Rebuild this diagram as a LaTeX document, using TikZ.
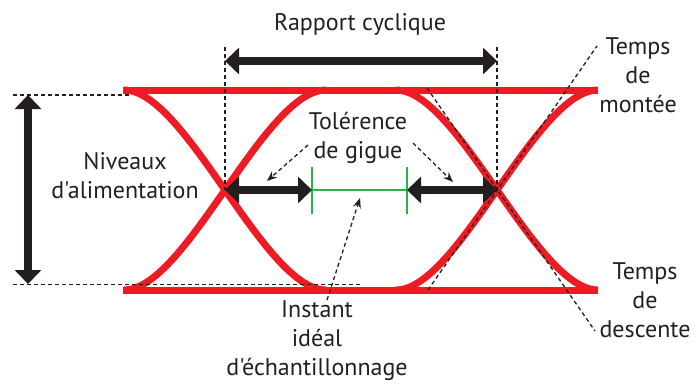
\documentclass[tikz,border=0pt]{standalone}
\usepackage{fontspec}
\setmainfont{PT Sans}[Ligatures=TeXOff]
\usetikzlibrary{arrows.meta}
\definecolor{oeilrouge}{RGB}{237,28,36}
\definecolor{encre}{RGB}{35,31,32}
\definecolor{vertgigue}{RGB}{40,180,75}

\begin{document}
\begin{tikzpicture}[
		x=1pt,y=-1pt,
		every node/.append style={align=center,text=encre,inner sep=0pt,font=\fontsize{24}{29}\selectfont},
		signal/.style={draw=oeilrouge,line width=7pt},
		fleche/.style={draw=encre,line width=8pt,{Triangle[length=14pt,width=26pt]}-{Triangle[length=14pt,width=26pt]}},
		pointille/.style={draw=encre,line width=1.3pt,dash pattern=on 4pt off 3pt},
		renvoi/.style={pointille,-{Stealth[length=10pt,width=8pt]}},
		gigue/.style={draw=vertgigue,line width=2pt}
	]
	\useasboundingbox (0,0) rectangle (695,383);

	\coordinate (croixG) at (225,190);
	\coordinate (croixD) at (497,190);
	\coordinate (vertG) at (312,190);
	\coordinate (vertD) at (407,190);

	\draw[signal] (123,90) -- (598,90);
	\draw[signal] (123,290) -- (598,290);
	\draw[signal] (124,90) .. controls (186,90) and (264,290) .. (326,290);
	\draw[signal] (124,290) .. controls (186,290) and (264,90) .. (326,90);
	\draw[signal] (396,90) .. controls (458,90) and (536,290) .. (598,290);
	\draw[signal] (396,290) .. controls (458,290) and (536,90) .. (598,90);

	\node[] (rapport) at (360,24) {Rapport cyclique};
	\node[] (niveaux) at (125,176) {Niveaux\\d'alimentation};
	\node[] (tolerance) at (358,138) {Tolérence\\de gigue};
	\node[] (instant) at (317,341) {Instant\\idéal\\d'échantillonnage};
	\node[] (montee) at (638,75) {Temps\\de\\montée};
	\node[] (descente) at (645,300) {Temps\\de\\descente};

	\coordinate (nivH) at (28,95);
	\coordinate (nivB) at (28,284);
	\coordinate (repereH) at (13,95);
	\coordinate (repereHfin) at (130,95);
	\coordinate (repereB) at (13,284.5);
	\coordinate (repereBfin) at (360,284.5);
	\coordinate (rapG) at (225,61);
	\coordinate (rapD) at (497,61);
	\coordinate (rapGh) at (225,47);
	\coordinate (rapDh) at (497,47);
	\coordinate (monteeB) at (428,290);
	\coordinate (monteeH) at (597,46);
	\coordinate (descenteH) at (427,88);
	\coordinate (descenteB) at (595,331);
	\coordinate (tolG) at (308,145);
	\coordinate (tolGfin) at (267,181);
	\coordinate (tolD) at (413,143);
	\coordinate (tolDfin) at (453,182);
	\coordinate (instantH) at (327,300);
	\coordinate (instantfin) at (360,198);

	\draw[pointille] (repereH) -- (repereHfin);
	\draw[pointille] (repereB) -- (repereBfin);
	\draw[pointille] (rapGh) -- (croixG);
	\draw[pointille] (rapDh) -- (croixD);
	\draw[pointille] (monteeB) -- (monteeH);
	\draw[pointille] (descenteH) -- (descenteB);

	\draw[gigue] (vertG) -- (vertD);
	\draw[gigue] ([yshift=-24pt]vertG) -- ([yshift=23pt]vertG);
	\draw[gigue] ([yshift=-24pt]vertD) -- ([yshift=23pt]vertD);

	\draw[fleche] (nivH) -- (nivB);
	\draw[fleche] (rapG) -- (rapD);
	\draw[fleche] (croixG) -- (vertG);
	\draw[fleche] (vertD) -- (croixD);

	\draw[renvoi] (tolG) -- (tolGfin);
	\draw[renvoi] (tolD) -- (tolDfin);
	\draw[renvoi] (instantH) -- (instantfin);
\end{tikzpicture}
\end{document}
